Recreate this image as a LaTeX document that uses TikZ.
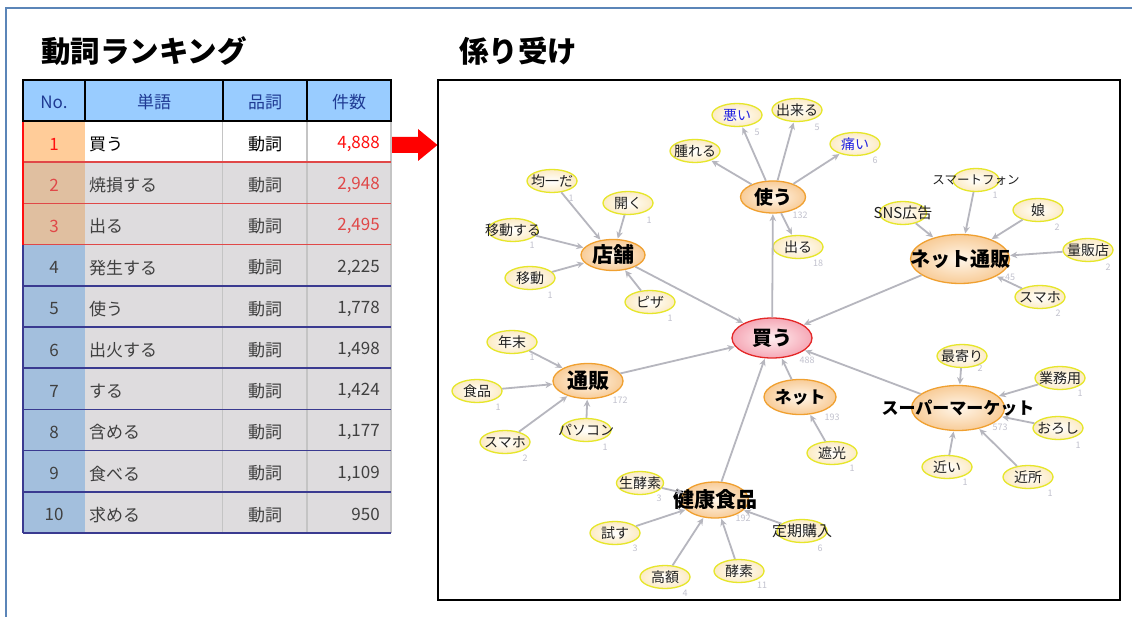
\documentclass[tikz,border=0pt]{standalone}
\usepackage{fontspec}
\setmainfont{Noto Sans CJK JP}
\usetikzlibrary{arrows.meta,shapes.geometric}
\definecolor{framec}{HTML}{5B85B8}
\definecolor{hdrfill}{HTML}{99CCFF}
\definecolor{hdrtxt}{HTML}{1F3A93}
\definecolor{peach}{HTML}{FFCC99}
\definecolor{tan}{HTML}{E0BFA0}
\definecolor{steel}{HTML}{A3BFDD}
\definecolor{cellg}{HTML}{DEDCDE}
\definecolor{redA}{HTML}{FF1010}
\definecolor{redB}{HTML}{E04848}
\definecolor{navy}{HTML}{3A3A90}
\definecolor{txt}{HTML}{404040}
\definecolor{vline}{HTML}{C4C4C4}
\definecolor{leafc}{HTML}{E6E62A}
\definecolor{leaffill}{HTML}{FCEBC4}
\definecolor{leaftxt}{HTML}{202020}
\definecolor{bluetxt}{HTML}{2424E0}
\definecolor{hubc}{HTML}{F0A030}
\definecolor{hubin}{HTML}{FFF6EA}
\definecolor{hubout}{HTML}{F8CC98}
\definecolor{rootc}{HTML}{E42828}
\definecolor{rootin}{HTML}{FFEEF0}
\definecolor{rootout}{HTML}{F5A8B6}
\definecolor{edgec}{HTML}{B6B6BE}
\definecolor{cntc}{HTML}{C2C2CE}
\newcommand{\zb}[1]{\makebox[0pt]{#1}}
\begin{document}
\begin{tikzpicture}[x=1pt,y=-1pt,
  leaf/.style={ellipse, draw=leafc, line width=1.3pt, inner color=white, outer color=leaffill, minimum width=50pt, minimum height=23pt, inner sep=0pt, font=\fontsize{14}{14}\selectfont, text=leaftxt},
  hub/.style={ellipse, draw=hubc, line width=1.3pt, inner color=hubin, outer color=hubout, inner sep=0pt, font=\bfseries\fontsize{20}{20}\selectfont, text=black},
  rootnode/.style={hub, draw=rootc, inner color=rootin, outer color=rootout},
  dep/.style={draw=edgec, line width=1.8pt, -{Stealth[length=7pt,width=6.5pt]}, shorten >=0.5pt},
  cnt/.style={text=cntc, font=\fontsize{9}{9}\selectfont, inner sep=0pt},
  tcell/.style={font=\fontsize{17}{17}\selectfont, inner sep=0pt},
  title/.style={font=\bfseries\fontsize{29.5}{29.5}\selectfont, inner sep=0pt, anchor=west}]
\useasboundingbox (0,0) rectangle (1132,617);
\fill[white] (0,0) rectangle (1132,617);
% outer frame
\draw[framec, line width=2pt] (6,617) -- (6,8) -- (1132,8);
% titles
\node[title] (t1) at (41,51) {動詞ランキング};
\node[title] (t2) at (459,51) {係り受け};

% ---------------- table ----------------
\fill[hdrfill] (22.5,80.5) rectangle (391,121);
\fill[peach] (22.5,121) rectangle (85,162.2);
\fill[white] (85,121) rectangle (391,162.2);
\fill[tan] (22.5,162.2) rectangle (85,244.6);
\fill[steel] (22.5,244.6) rectangle (85,533);
\fill[cellg] (85,162.2) rectangle (391,533);
% vertical grey lines
\foreach \x in {222.5,307,391} \draw[vline, line width=1.5pt] (\x,121) -- (\x,533);
% horizontal lines
\foreach \y in {162.2,203.4,244.6} \draw[redB, line width=1.6pt] (22.5,\y) -- (391,\y);
\foreach \y in {285.8,327,368.2,409.4,450.6,491.8,533} \draw[navy, line width=1.6pt] (22.5,\y) -- (391,\y);
\draw[redA, line width=2pt] (22.5,121) -- (22.5,244.6);
\draw[navy, line width=2pt] (22.5,244.6) -- (22.5,533);
% header border
\draw[black, line width=2pt] (22.5,80.5) rectangle (391,121);
\foreach \x in {85,222.5,307} \draw[black, line width=2pt] (\x,80.5) -- (\x,121);
\node[tcell, text=hdrtxt] (h1) at (54,102) {No.};
\node[tcell, text=hdrtxt] (h2) at (154,102) {単語};
\node[tcell, text=hdrtxt] (h3) at (265,102) {品詞};
\node[tcell, text=hdrtxt] (h4) at (349,102) {件数};
\foreach \n/\w/\v/\cn/\cw [count=\k] in {
  1/買う/4{,}888/redA/black,
  2/焼損する/2{,}948/redB/txt,
  3/出る/2{,}495/redB/txt,
  4/発生する/2{,}225/txt/txt,
  5/使う/1{,}778/txt/txt,
  6/出火する/1{,}498/txt/txt,
  7/する/1{,}424/txt/txt,
  8/含める/1{,}177/txt/txt,
  9/食べる/1{,}109/txt/txt,
  10/求める/950/txt/txt}{
  \pgfmathsetmacro\yy{144+41.2*(\k-1)}
  \node[tcell, text=\cn] (rn\k) at (54,\yy) {\n};
  \node[tcell, text=\cw, anchor=west] (rw\k) at (89,\yy) {\w};
  \node[tcell, text=\cw] (rp\k) at (265,\yy) {動詞};
  \node[tcell, text=\cn, anchor=east] (rv\k) at (380,\yy) {\v};
}
% red block arrow
\fill[red] (392,137) -- (418,137) -- (418,129) -- (437.5,145) -- (418,161) -- (418,153) -- (392,153) -- cycle;

% ---------------- graph ----------------
\draw[black, line width=1.8pt] (438,80) rectangle (1120,600);

% hubs
\node[rootnode, minimum width=80pt, minimum height=40pt] (kau) at (772,338) {\zb{買う}};
\node[hub, minimum width=65pt, minimum height=32pt, font=\bfseries\fontsize{19}{19}\selectfont] (tsukau) at (773,197) {\zb{使う}};
\node[hub, minimum width=64pt, minimum height=31pt, font=\bfseries\fontsize{21}{21}\selectfont] (tenpo) at (613,255) {\zb{店舗}};
\node[hub, minimum width=99pt, minimum height=49pt] (netsuhan) at (960,259) {\zb{ネット通販}};
\node[hub, minimum width=70pt, minimum height=35pt, font=\bfseries\fontsize{21}{21}\selectfont] (tsuhan) at (588,381) {\zb{通販}};
\node[hub, minimum width=72pt, minimum height=35pt, font=\bfseries\fontsize{17}{17}\selectfont] (net) at (800,397) {\zb{ネット}};
\node[hub, minimum width=93pt, minimum height=45pt, font=\bfseries\fontsize{17}{17}\selectfont] (super) at (958,408) {\zb{スーパーマーケット}};
\node[hub, minimum width=67pt, minimum height=36pt, font=\bfseries\fontsize{21}{21}\selectfont] (kenko) at (715,500) {\zb{健康食品}};

% leaves
\node[leaf, text=bluetxt] (warui) at (737,115) {\zb{悪い}};
\node[leaf] (dekiru) at (797,110) {\zb{出来る}};
\node[leaf, text=bluetxt] (itai) at (855,144) {\zb{痛い}};
\node[leaf] (hareru) at (695,151) {\zb{腫れる}};
\node[leaf] (deru) at (798,247) {\zb{出る}};
\node[leaf] (kinitsu) at (552,181) {\zb{均一だ}};
\node[leaf] (hiraku) at (628,203) {\zb{開く}};
\node[leaf] (idosuru) at (513,230) {\zb{移動する}};
\node[leaf] (ido) at (530,278) {\zb{移動}};
\node[leaf] (piza) at (650,302) {\zb{ピザ}};
\node[leaf, minimum width=46pt, font=\fontsize{12.5}{12.5}\selectfont] (smartphone) at (976,180) {\zb{スマートフォン}};
\node[leaf, minimum width=47pt, font=\fontsize{15}{15}\selectfont] (sns) at (903,213) {\zb{SNS広告}};
\node[leaf] (musume) at (1038,210) {\zb{娘}};
\node[leaf] (ryohan) at (1088,250) {\zb{量販店}};
\node[leaf] (sumahoA) at (1040,297) {\zb{スマホ}};
\node[leaf] (nenmatsu) at (512,342) {\zb{年末}};
\node[leaf] (shokuhin) at (477,391) {\zb{食品}};
\node[leaf] (sumahoB) at (505,442) {\zb{スマホ}};
\node[leaf] (pasokon) at (586,430) {\zb{パソコン}};
\node[leaf] (shako) at (832,453) {\zb{遮光}};
\node[leaf] (moyori) at (962,356) {\zb{最寄り}};
\node[leaf] (gyomu) at (1060,378) {\zb{業務用}};
\node[leaf] (oroshi) at (1058,428) {\zb{おろし}};
\node[leaf] (chikai) at (947,467) {\zb{近い}};
\node[leaf] (kinjo) at (1028,477) {\zb{近所}};
\node[leaf, minimum width=47pt] (namakoso) at (640,483) {\zb{生酵素}};
\node[leaf] (tamesu) at (615,533) {\zb{試す}};
\node[leaf, minimum width=50pt, font=\fontsize{15}{15}\selectfont] (teiki) at (802,531) {\zb{定期購入}};
\node[leaf] (kogaku) at (665,577) {\zb{高額}};
\node[leaf] (koso) at (739,571) {\zb{酵素}};

% edges
\draw[dep] (kau) -- (tsukau);
\foreach \a in {tenpo,netsuhan,tsuhan,net,kenko,super} \draw[dep] (\a) -- (kau);
\foreach \b in {hareru,warui,dekiru,itai,deru} \draw[dep] (tsukau) -- (\b);
\foreach \a in {kinitsu,hiraku,idosuru,ido,piza} \draw[dep] (\a) -- (tenpo);
\foreach \a in {smartphone,sns,musume,ryohan,sumahoA} \draw[dep] (\a) -- (netsuhan);
\foreach \a in {nenmatsu,shokuhin,sumahoB,pasokon} \draw[dep] (\a) -- (tsuhan);
\draw[dep] (shako) -- (net);
\foreach \a in {moyori,gyomu,oroshi,chikai,kinjo} \draw[dep] (\a) -- (super);
\foreach \a in {namakoso,tamesu,kogaku,koso,teiki} \draw[dep] (\a) -- (kenko);

% counts
\foreach \p/\t [count=\k] in {
 {(757,132)}/5, {(817,127)}/5, {(875,160)}/6, {(800,215)}/132, {(818,263)}/18,
 {(571,198)}/1, {(649,220)}/1, {(532,245)}/1, {(550,295)}/1, {(670,318)}/1,
 {(995,195)}/1, {(1057,227)}/2, {(1108,267)}/2, {(1058,313)}/2, {(1010,277)}/45,
 {(532,357)}/1, {(498,407)}/1, {(525,458)}/2, {(605,447)}/1, {(620,400)}/172,
 {(980,368)}/2, {(1080,393)}/1, {(1078,445)}/1, {(965,482)}/1, {(1050,493)}/1,
 {(852,468)}/1, {(832,417)}/193, {(1000,427)}/573, {(743,518)}/192, {(659,498)}/3,
 {(635,548)}/3, {(820,548)}/6, {(685,593)}/4, {(762,585)}/11, {(807,360)}/488}{
  \node[cnt] (cnt\k) at \p {\t};
}
\end{tikzpicture}
\end{document}
